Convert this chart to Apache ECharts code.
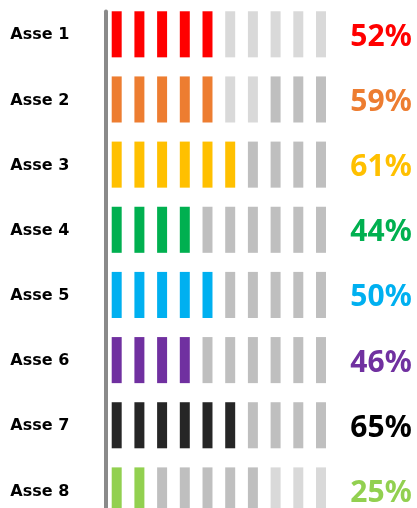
<!DOCTYPE html>
<html>
<head>
<meta charset="utf-8">
<script src="https://cdn.jsdelivr.net/npm/echarts@6/dist/echarts.min.js"></script>
<style>
  html, body { margin: 0; padding: 0; background: #ffffff; }
  #chart { width: 417px; height: 508px; }
</style>
</head>
<body>
<div id="chart"></div>
<script>
// Axes and their scores
const categories = ['Asse 1', 'Asse 2', 'Asse 3', 'Asse 4', 'Asse 5', 'Asse 6', 'Asse 7', 'Asse 8'];
const percentages = [52, 59, 61, 44, 50, 46, 65, 25];
// Number of highlighted blocks out of ten in each row
const filledBlocks = [5, 5, 6, 4, 5, 4, 6, 2];
const totalBlocks = 10;

// Styling
const rowColors = ['#ff0000', '#ed7d31', '#ffc000', '#00b050', '#00b0f0', '#7030a0', '#262626', '#92d050'];
const labelColors = ['#ff0000', '#ed7d31', '#ffc000', '#00b050', '#00b0f0', '#7030a0', '#000000', '#92d050'];
const darkGrey = '#bfbfbf';
const lightGrey = '#d9d9d9';
// Empty blocks drawn in the lighter grey: [row, block]
const lightCells = [[0, 5], [0, 6], [0, 7], [0, 8], [0, 9], [1, 5], [1, 6], [7, 7], [7, 8], [7, 9]];

function isLight(r, c) {
  return lightCells.some(function (p) { return p[0] === r && p[1] === c; });
}

const rows = categories.map(function (name, i) {
  return [i, percentages[i], filledBlocks[i], name];
});

const chart = echarts.init(document.getElementById('chart'));

chart.setOption({
  animation: false,
  backgroundColor: '#ffffff',
  grid: { left: 105.35, right: 84.65, top: 11.5, bottom: -15, outerBoundsMode: 'none', containLabel: false },
  xAxis: {
    type: 'value', min: 0, max: totalBlocks,
    show: false
  },
  yAxis: {
    type: 'value', inverse: true, min: -0.35, max: 7.5,
    offset: 8,
    axisLine: { show: true, lineStyle: { color: '#8a8a8a', width: 4 } },
    axisTick: { show: false },
    axisLabel: { show: false },
    splitLine: { show: false }
  },
  series: [{
    type: 'custom',
    data: rows,
    encode: { x: 1, y: 0 },
    clip: false,
    renderItem: function (params, api) {
      const r = api.value(0);
      const filled = api.value(2);
      const size = api.size([1, 1]);
      const w = size[0] * 0.44;
      const h = size[1] * 0.707;
      const children = [];
      for (let c = 0; c < totalBlocks; c++) {
        const p = api.coord([c + 0.5, r]);
        let fill;
        if (c < filled) fill = rowColors[r];
        else fill = isLight(r, c) ? lightGrey : darkGrey;
        children.push({
          type: 'rect',
          shape: { x: p[0] - w / 2, y: p[1] - h / 2, width: w, height: h },
          style: { fill: fill }
        });
      }
      const left = api.coord([0, r]);
      children.push({
        type: 'text',
        style: {
          x: left[0] - 95, y: left[1] + 1,
          text: categories[r],
          fill: '#000000',
          font: 'bold 16px "DejaVu Sans"',
          align: 'left', verticalAlign: 'middle'
        }
      });
      const right = api.coord([totalBlocks, r]);
      children.push({
        type: 'text',
        style: {
          x: right[0] + 18, y: right[1] + 3,
          text: api.value(1) + '%',
          fill: labelColors[r],
          font: 'bold 30px "Noto Sans"',
          align: 'left', verticalAlign: 'middle'
        }
      });
      return { type: 'group', children: children };
    }
  }]
});
</script>
</body>
</html>
